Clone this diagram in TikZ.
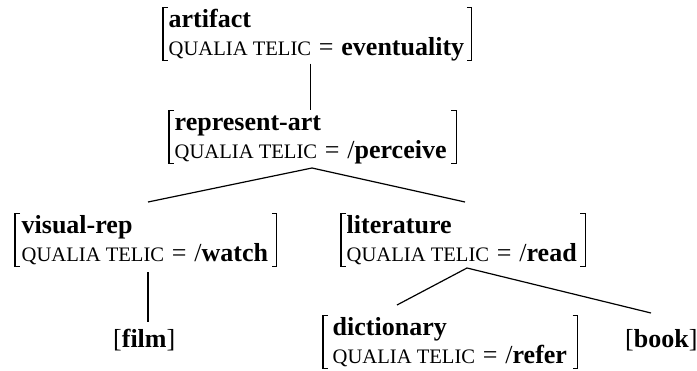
\documentclass[tikz,border=0pt]{standalone}
\usepackage{fontspec}
\setmainfont{Liberation Serif}
\newcommand{\qualtel}{{\fontsize{20.6}{20}\selectfont QUALIA TELIC}\hspace{0.3em}=\hspace{0.3em}}
\tikzset{
  avm/.style={inner xsep=4.5pt, inner ysep=0pt, anchor=base west, font=\fontsize{26}{28}\selectfont},
  leaf/.style={inner sep=0pt, anchor=base west, font=\fontsize{26}{28}\selectfont},
  br/.style={line width=1.2pt},
  edge/.style={line width=1.2pt},
}
% #1 node, #2 left bracket shift, #3 right bracket shift
\newcommand{\avmbrackets}[3]{%
  \draw[br] ([xshift=#2+5pt]#1.north west) -- ([xshift=#2]#1.north west) -- ([xshift=#2,yshift=3.4pt]#1.south west) -- ++(5pt,0);
  \draw[br] ([xshift=#3-5pt]#1.north east) -- ([xshift=#3]#1.north east) -- ([xshift=#3,yshift=3.4pt]#1.south east) -- ++(-5pt,0);}
\begin{document}
\begin{tikzpicture}[x=1pt,y=-1pt]
\useasboundingbox (0,0) rectangle (697,370);
\node[avm] (art) at (164,27) {\begin{tabular}[t]{@{}l@{}}\textbf{artifact}\\ \qualtel\textbf{eventuality}\end{tabular}};
\node[avm] (rep) at (170,130) {\begin{tabular}[t]{@{}l@{}}\textbf{represent-art}\\ \qualtel/\textbf{perceive}\end{tabular}};
\node[avm] (vis) at (17,233) {\begin{tabular}[t]{@{}l@{}}\textbf{visual-rep}\\ \qualtel/\textbf{watch}\end{tabular}};
\node[avm] (lit) at (342,233) {\begin{tabular}[t]{@{}l@{}}\textbf{literature}\\ \qualtel/\textbf{read}\end{tabular}};
\node[avm] (dict) at (328,335) {\begin{tabular}[t]{@{}l@{}}\textbf{dictionary}\\ \qualtel/\textbf{refer}\end{tabular}};
\node[leaf] (film) at (113,347) {[\textbf{film}]};
\node[leaf] (book) at (625,347) {[\textbf{book}]};
\avmbrackets{art}{-1pt}{3pt}
\avmbrackets{rep}{-1pt}{5pt}
\avmbrackets{vis}{-2pt}{4pt}
\avmbrackets{lit}{-1pt}{4pt}
\avmbrackets{dict}{-5pt}{6pt}
\coordinate (repA) at (312,168);
\coordinate (visT) at (148,202);
\coordinate (litT) at (465,202);
\coordinate (litA) at (467,268);
\coordinate (dictT) at (397,305);
\coordinate (bookT) at (651,313);
\coordinate (filmT) at (148,322);
\draw[edge] (rep.north |- art.south) -- (rep.north);
\draw[edge] (visT) -- (repA) -- (litT);
\draw[edge] (dictT) -- (litA) -- (bookT);
\draw[edge, shorten <=2.5pt] (vis.south -| filmT) -- (filmT);
\end{tikzpicture}
\end{document}
